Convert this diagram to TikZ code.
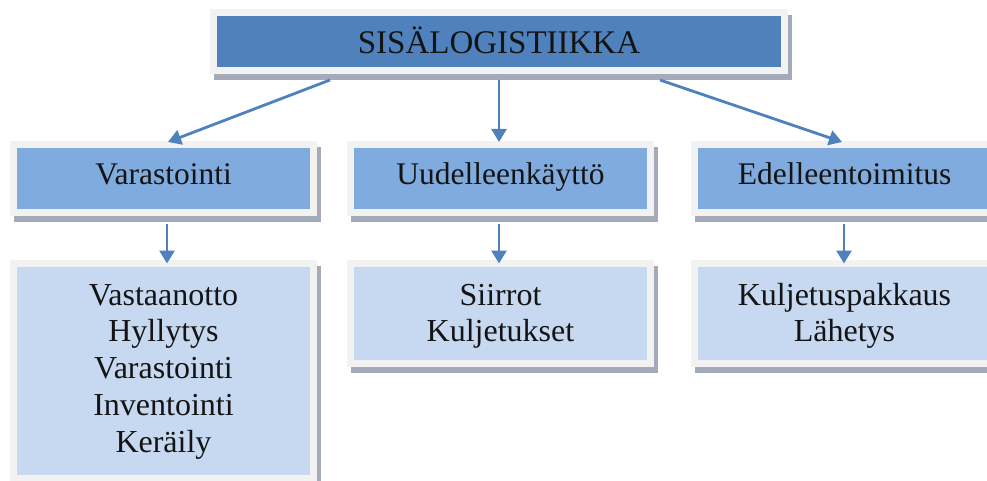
\documentclass[tikz,border=0pt]{standalone}
\usepackage{fontspec}
\setmainfont{Liberation Serif}
\usetikzlibrary{arrows.meta,shadows}
\definecolor{topblue}{HTML}{4F81BD}
\definecolor{midblue}{HTML}{80ABDF}
\definecolor{lowblue}{HTML}{C6D9F1}
\definecolor{framec}{HTML}{F2F2F2}
\definecolor{shadec}{HTML}{A3ABB9}
\definecolor{arrowc}{HTML}{4F81BD}
\definecolor{textc}{HTML}{141414}
\newcommand\tbox[3]{\raisebox{0pt}[#1pt][#2pt]{\begin{tabular}[t]{@{}c@{}}#3\end{tabular}}}
\begin{document}
\begin{tikzpicture}[x=1pt,y=-1pt,
  boxbase/.style={draw=framec, line width=7pt, inner sep=0pt, outer sep=0pt, text=textc,
    drop shadow={shadow xshift=4pt, shadow yshift=-6pt, fill=shadec, draw=shadec, line width=7pt, opacity=1}},
  topbox/.style={boxbase, fill=topblue, minimum width=571pt, minimum height=57.5pt, font=\fontsize{33}{39}\selectfont},
  midbox/.style={boxbase, fill=midblue, minimum width=300pt, minimum height=68pt, font=\fontsize{31.5}{36.75}\selectfont},
  lowbox/.style={boxbase, fill=lowblue, minimum width=300pt, font=\fontsize{32}{36.75}\selectfont},
  conn/.style={draw=arrowc, line width=2.8pt, -{Triangle[width=15pt,length=13pt]}}]
\clip (0,0) rectangle (987,481);
\fill[white] (0,0) rectangle (987,481);
\node[topbox] (top) at (499,41.75) {\tbox{23.5}{0}{SISÄLOGISTIIKKA}};
\node[midbox] (v1) at (163.5,178.5) {\tbox{13}{0}{Varastointi}};
\node[midbox] (v2) at (500.5,178.5) {\tbox{13}{0}{Uudelleenkäyttö}};
\node[midbox] (v3) at (844.5,178.5) {\tbox{13}{0}{Edelleentoimitus}};
\node[lowbox, minimum height=215pt] (l1) at (163.5,371) {\tbox{0}{132}{Vastaanotto\\Hyllytys\\Varastointi\\Inventointi\\Keräily}};
\node[lowbox, minimum height=100pt] (l2) at (500.5,313.5) {\tbox{0}{17}{Siirrot\\Kuljetukset}};
\node[lowbox, minimum height=100pt] (l3) at (844.5,313.5) {\tbox{0}{17}{Kuljetuspakkaus\\Lähetys}};
\draw[conn] ([xshift=-169pt,yshift=-9.5pt]top.south) -- ([xshift=4.5pt,yshift=2.5pt]v1.north);
\draw[conn] ([yshift=-9.5pt]top.south) -- ([xshift=-1.5pt,yshift=2.5pt]v2.north);
\draw[conn] ([xshift=161pt,yshift=-9.5pt]top.south) -- ([xshift=-2.5pt,yshift=2.5pt]v3.north);
\draw[conn] ([xshift=3.5pt,yshift=-11pt]v1.south) -- ([xshift=3.5pt]l1.north);
\draw[conn] ([xshift=-1.5pt,yshift=-11pt]v2.south) -- ([xshift=-1.5pt]l2.north);
\draw[conn] ([xshift=-0.5pt,yshift=-11pt]v3.south) -- ([xshift=-0.5pt]l3.north);
\end{tikzpicture}
\end{document}
